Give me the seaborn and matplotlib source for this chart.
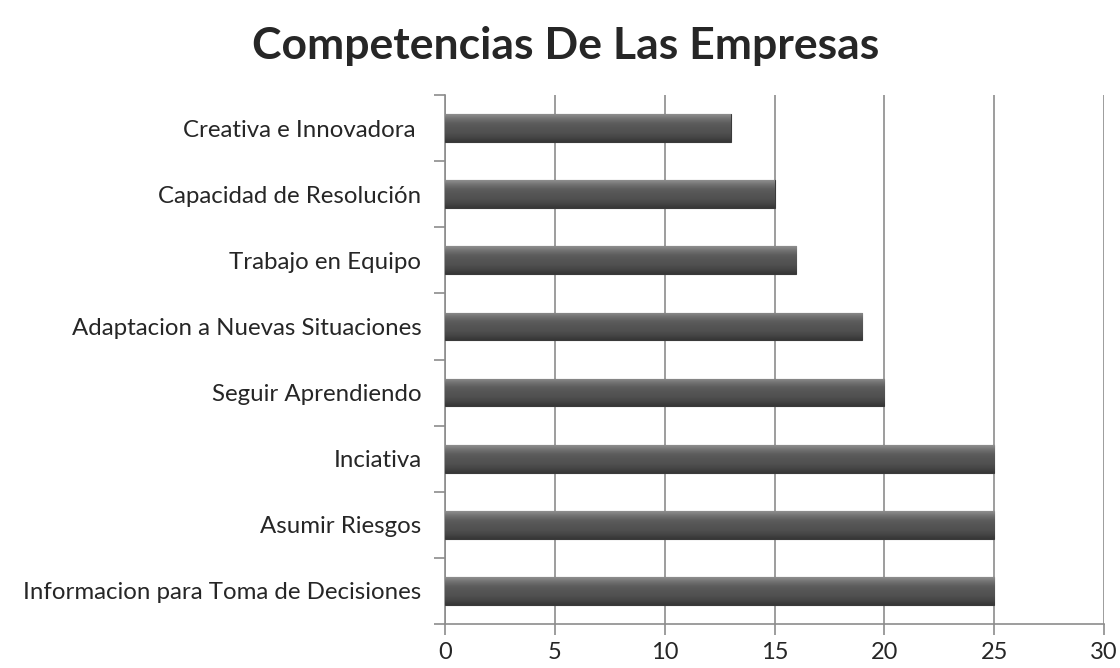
import numpy as np
import pandas as pd
import matplotlib
matplotlib.use('Agg')
import matplotlib.pyplot as plt
import seaborn as sns
from matplotlib.colors import LinearSegmentedColormap

categories = ['Creativa e Innovadora ', 'Capacidad de Resolución', 'Trabajo en Equipo',
              'Adaptacion a Nuevas Situaciones', 'Seguir Aprendiendo', 'Inciativa',
              'Asumir Riesgos', 'Informacion para Toma de Decisiones']
values = [13, 15, 16, 19, 20, 25, 25, 25]
x_ticks = [0, 5, 10, 15, 20, 25, 30]

df = pd.DataFrame({'competencia': categories, 'valor': values})

sns.set_style('white')
plt.rcParams['font.family'] = ['Lato', 'DejaVu Sans']

fig = plt.figure(figsize=(11.2, 6.68), dpi=100)
ax = fig.add_axes([445 / 1120, 1 - 624 / 668, (1104 - 445) / 1120, (624 - 95) / 668])

sns.barplot(data=df, x='valor', y='competencia', color='#595959', width=0.42,
            orient='h', ax=ax, zorder=3)

# cylinder-like shading on each bar
shade = LinearSegmentedColormap.from_list(
    'shade', ['#8e8e8e', '#707070', '#5c5c5c', '#555555', '#505050', '#464646', '#363636'])
grad = np.linspace(0, 1, 64).reshape(-1, 1)
for p in ax.patches:
    x0, y0 = p.get_x(), p.get_y()
    w, h = p.get_width(), p.get_height()
    im = ax.imshow(grad, cmap=shade, aspect='auto', extent=[x0, x0 + w, y0 + h, y0],
                   origin='upper', zorder=4)
    im.set_clip_path(p)
    p.set_edgecolor('#3a3a3a')
    p.set_linewidth(0.8)

ax.set_xlim(0, 30)
ax.set_ylim(7.5, -0.5)
ax.set_xticks(x_ticks)
ax.set_xticklabels([str(t) for t in x_ticks], fontsize=17)
ax.set_yticks(range(len(categories)))
ax.set_yticklabels(categories, fontsize=17.3)
ax.set_yticks(np.arange(-0.5, len(categories), 1), minor=True)
ax.tick_params(axis='y', which='both', left=True)
ax.tick_params(axis='x', which='major', bottom=True)
ax.tick_params(axis='y', which='major', length=0, pad=17)
ax.tick_params(axis='y', which='minor', length=8, color='#8c8c8c', width=1.2, direction='out')
ax.tick_params(axis='x', which='major', length=8, color='#8c8c8c', width=1.2, direction='out', pad=5)

ax.grid(axis='x', color='#8c8c8c', linewidth=1.2, zorder=0)
ax.grid(axis='y', visible=False)
ax.set_axisbelow(True)
for s in ['top', 'right']:
    ax.spines[s].set_visible(False)
for s in ['left', 'bottom']:
    ax.spines[s].set_color('#8c8c8c')
    ax.spines[s].set_linewidth(1.2)

ax.set_xlabel('')
ax.set_ylabel('')
fig.text(566 / 1120, 1 - 46 / 668, 'Competencias De Las Empresas', ha='center', va='center',
         fontsize=32, fontweight='bold')

fig.savefig('out.png', dpi=100)
